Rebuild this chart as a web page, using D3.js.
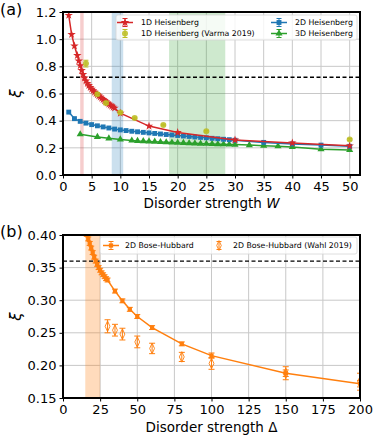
<!DOCTYPE html>
<html>
<head>
<meta charset="utf-8">
<script src="https://cdn.jsdelivr.net/npm/d3@7"></script>
<style>
  body { margin: 0; background: #fff; }
  text { font-family: "DejaVu Sans", sans-serif; }
</style>
</head>
<body>
<svg id="chart"></svg>
<script>
// ---- panel (a) data ----
let heis1dW = [1, 1.5, 2, 2.5, 2.75, 3, 3.25, 3.5, 3.75, 4, 4.25, 4.5, 4.75, 5, 5.25, 5.5, 5.75,
    6, 6.25, 6.5, 6.75, 7, 7.25, 7.5, 7.75, 8, 8.25, 8.5, 8.75, 9, 10, 15, 20, 30, 40, 50];
let heis1dXi = [1.176, 1.035, 0.95, 0.88, 0.84, 0.805, 0.77, 0.74, 0.715, 0.693, 0.675, 0.659, 0.645,
    0.632, 0.621, 0.61, 0.6, 0.592, 0.583, 0.574, 0.565, 0.556, 0.547, 0.538, 0.53, 0.522, 0.514,
    0.507, 0.5, 0.493, 0.455, 0.36, 0.313, 0.258, 0.236, 0.215];

let heis2dW = [1, 2, 3, 4, 5, 6, 7, 8, 9, 10, 11, 12, 13, 14, 15, 16, 17, 18, 19, 20, 21, 22, 23, 24,
    25, 26, 27, 28, 29, 30, 35, 40, 45, 50];
let heis2dXi = [0.463, 0.415, 0.395, 0.382, 0.371, 0.362, 0.354, 0.346, 0.338, 0.332, 0.327, 0.322,
    0.318, 0.314, 0.31, 0.306, 0.302, 0.298, 0.295, 0.291, 0.287, 0.284, 0.28, 0.277, 0.274, 0.27,
    0.267, 0.263, 0.26, 0.256, 0.24, 0.229, 0.22, 0.211];

let heis3dW = [3, 6, 8, 10, 12, 13, 14, 15, 16, 17, 18, 19, 20, 21, 22, 23, 24, 25, 26, 27, 28, 29, 30,
    32.5, 35, 37.5, 40, 45, 50];
let heis3dXi = [0.3, 0.28, 0.27, 0.262, 0.254, 0.251, 0.249, 0.247, 0.245, 0.243, 0.241, 0.239, 0.237,
    0.236, 0.234, 0.233, 0.231, 0.23, 0.229, 0.227, 0.226, 0.225, 0.224, 0.22, 0.216, 0.212, 0.207,
    0.19, 0.184];

let varmaW = [4, 6, 7.5, 10, 12.5, 17.5, 25, 50];
let varmaXi = [0.82, 0.595, 0.53, 0.46, 0.42, 0.368, 0.322, 0.262];
let varmaErr = [0.025, 0.01, 0.01, 0.008, 0.006, 0.006, 0.006, 0.006];

let spansA = [[3, 3.6, "#d62728"], [8.5, 10.5, "#1f77b4"], [18.5, 28.3, "#2ca02c"]];
let dashA = 0.72;
let xTicksA = [0, 5, 10, 15, 20, 25, 30, 35, 40, 45, 50];
let yTicksA = [0, 0.2, 0.4, 0.6, 0.8, 1.0, 1.2];

// ---- panel (b) data ----
let bhD = [16, 17, 18, 19, 20, 21, 22, 23, 24, 25, 26, 27, 28, 29, 30, 35, 40, 45, 50, 60, 80, 100, 150, 200];
let bhXi = [0.401, 0.394, 0.387, 0.38, 0.373, 0.366, 0.36, 0.355, 0.35, 0.346, 0.342, 0.339, 0.336,
    0.333, 0.331, 0.314, 0.299, 0.286, 0.275, 0.258, 0.233, 0.215, 0.188, 0.172];
let bhErr = [0.003, 0.003, 0.003, 0.003, 0.003, 0.003, 0.003, 0.003, 0.003, 0.003, 0.003, 0.003, 0.003,
    0.003, 0.003, 0.003, 0.003, 0.003, 0.003, 0.003, 0.003, 0.004, 0.005, 0.005];

let wahlD = [30, 35, 40, 50, 60, 80, 100, 150, 200];
let wahlXi = [0.26, 0.254, 0.248, 0.236, 0.226, 0.213, 0.203, 0.188, 0.175];
let wahlErr = [0.01, 0.009, 0.009, 0.009, 0.008, 0.007, 0.009, 0.01, 0.013];

let spanB = [15, 25];
let dashB = 0.36;
let xTicksB = [0, 25, 50, 75, 100, 125, 150, 175, 200];
let yTicksB = [0.15, 0.2, 0.25, 0.3, 0.35, 0.4];

let svgW = 374, svgH = 437;
let svg = d3.select("#chart").attr("width", svgW).attr("height", svgH);

let boxA = {left: 63, right: 360, top: 12, bottom: 175};
let boxB = {left: 63, right: 360, top: 235, bottom: 398};

let xA = d3.scaleLinear().domain([0, 51.8]).range([boxA.left, boxA.right]);
let yA = d3.scaleLinear().domain([0, 1.2]).range([boxA.bottom, boxA.top]);
let xB = d3.scaleLinear().domain([0, 200]).range([boxB.left, boxB.right]);
let yB = d3.scaleLinear().domain([0.15, 0.40]).range([boxB.bottom, boxB.top]);

let defs = svg.append("defs");
function clipFor(id, box) {
    defs.append("clipPath").attr("id", id).append("rect")
        .attr("x", box.left).attr("y", box.top)
        .attr("width", box.right - box.left).attr("height", box.bottom - box.top);
}
clipFor("clipA", boxA);
clipFor("clipB", boxB);

function grid(g, x, y, xt, yt, box) {
    g.selectAll(".gx").data(xt).enter().append("line")
        .attr("x1", d => x(d)).attr("x2", d => x(d))
        .attr("y1", box.top).attr("y2", box.bottom)
        .attr("stroke", "#c8c8c8").attr("stroke-width", 1);
    g.selectAll(".gy").data(yt).enter().append("line")
        .attr("x1", box.left).attr("x2", box.right)
        .attr("y1", d => y(d)).attr("y2", d => y(d))
        .attr("stroke", "#c8c8c8").attr("stroke-width", 1);
}

function axes(x, y, xt, yt, box, yfmt) {
    let xAxis = d3.axisBottom(x).tickValues(xt).tickSize(3.5).tickPadding(3.5).tickFormat(d3.format("d"));
    let gx = svg.append("g").attr("transform", "translate(0," + box.bottom + ")").call(xAxis);
    let yAxis = d3.axisLeft(y).tickValues(yt).tickSize(3.5).tickPadding(3).tickFormat(d3.format(yfmt));
    let gy = svg.append("g").attr("transform", "translate(" + box.left + ",0)").call(yAxis);
    [gx, gy].forEach(function (g) {
        g.select(".domain").remove();
        g.selectAll("text").attr("font-size", 13).attr("fill", "#000")
            .style("font-family", "DejaVu Sans");
        g.selectAll("line").attr("stroke", "#000").attr("stroke-width", 1);
    });
    svg.append("rect")
        .attr("x", box.left).attr("y", box.top)
        .attr("width", box.right - box.left).attr("height", box.bottom - box.top)
        .attr("fill", "none").attr("stroke", "#000").attr("stroke-width", 2);
}

function marker(g, type, cx, cy, color, size) {
    let sym = d3.symbol().type(type).size(size);
    let p = g.append("path").attr("d", sym()).attr("transform", "translate(" + cx + "," + cy + ")");
    if (type === d3.symbolDiamond) {
        p.attr("fill", "none")
            .attr("stroke", color).attr("stroke-width", 1)
            .attr("transform", "translate(" + cx + "," + cy + ") scale(0.8,1)");
    } else {
        p.attr("fill", color);
    }
    return p;
}

function errbar(g, cx, y0, y1, color, cap) {
    g.append("line").attr("x1", cx).attr("x2", cx).attr("y1", y0).attr("y2", y1)
        .attr("stroke", color).attr("stroke-width", 1);
    [y0, y1].forEach(function (yy) {
        g.append("line").attr("x1", cx - cap).attr("x2", cx + cap).attr("y1", yy).attr("y2", yy)
            .attr("stroke", color).attr("stroke-width", 1);
    });
}

function series(g, x, y, xs, ys, color, type, size, withLine) {
    if (withLine) {
        let line = d3.line().x(d => x(d[0])).y(d => y(d[1]));
        g.append("path").datum(d3.zip(xs, ys)).attr("d", line)
            .attr("fill", "none").attr("stroke", color).attr("stroke-width", 1.5);
    }
    xs.forEach(function (d, i) {
        marker(g, type, x(d), y(ys[i]), color, size);
    });
}

// ================= panel (a) =================
let gA = svg.append("g").attr("clip-path", "url(#clipA)");
grid(gA, xA, yA, xTicksA, yTicksA, boxA);
spansA.forEach(function (s) {
    gA.append("rect").attr("x", xA(s[0])).attr("width", xA(s[1]) - xA(s[0]))
        .attr("y", boxA.top).attr("height", boxA.bottom - boxA.top)
        .attr("fill", s[2]).attr("fill-opacity", 0.23);
});
gA.append("line").attr("x1", boxA.left).attr("x2", boxA.right)
    .attr("y1", yA(dashA)).attr("y2", yA(dashA))
    .attr("stroke", "#000").attr("stroke-width", 1.4).attr("stroke-dasharray", "4,2.5");

series(gA, xA, yA, heis3dW, heis3dXi, "#2ca02c", d3.symbolTriangle, 22, true);
series(gA, xA, yA, heis2dW, heis2dXi, "#1f77b4", d3.symbolSquare, 24, true);
series(gA, xA, yA, heis1dW, heis1dXi, "#d62728", d3.symbolStar, 22, true);
varmaW.forEach(function (d, i) {
    errbar(gA, xA(d), yA(varmaXi[i] - varmaErr[i]), yA(varmaXi[i] + varmaErr[i]), "#bcbd22", 2.5);
    gA.append("circle").attr("cx", xA(d)).attr("cy", yA(varmaXi[i])).attr("r", 3)
        .attr("fill", "#bcbd22").attr("fill-opacity", 0.85);
});
axes(xA, yA, xTicksA, yTicksA, boxA, ".1f");

// legend (a)
let legA = svg.append("g");
legA.append("rect").attr("x", 116).attr("y", 15).attr("width", 241).attr("height", 25)
    .attr("rx", 2).attr("fill", "#fff").attr("fill-opacity", 0.8)
    .attr("stroke", "#d5d5d5").attr("stroke-width", 0.8);
let legItemsA = [
    {label: "1D Heisenberg", color: "#d62728", type: d3.symbolStar, size: 24, line: true, x: 117, y: 22.5},
    {label: "1D Heisenberg (Varma 2019)", color: "#bcbd22", type: "circle", size: 0, line: false, x: 117, y: 33.5},
    {label: "2D Heisenberg", color: "#1f77b4", type: d3.symbolSquare, size: 24, line: true, x: 271, y: 22.5},
    {label: "3D Heisenberg", color: "#2ca02c", type: d3.symbolTriangle, size: 22, line: true, x: 271, y: 33.5}
];
legItemsA.forEach(function (it) {
    let cx = it.x + 8;
    if (it.line) {
        legA.append("line").attr("x1", it.x).attr("x2", it.x + 16).attr("y1", it.y).attr("y2", it.y)
            .attr("stroke", it.color).attr("stroke-width", 1.5);
    }
    errbar(legA, cx, it.y - 4, it.y + 4, it.color, 2.5);
    if (it.type === "circle") {
        legA.append("circle").attr("cx", cx).attr("cy", it.y).attr("r", 3)
            .attr("fill", it.color).attr("fill-opacity", 0.85);
    } else {
        marker(legA, it.type, cx, it.y, it.color, it.size);
    }
    legA.append("text").attr("x", it.x + 24).attr("y", it.y).attr("dy", "0.36em")
        .attr("font-size", 7.8).text(it.label);
});

// labels (a)
svg.append("text").attr("x", 0).attr("y", 14.5).attr("font-size", 16).text("(a)");
svg.append("text").attr("transform", "translate(21,93.5) rotate(-90)")
    .attr("text-anchor", "middle").attr("font-size", 15).attr("font-style", "italic").text("ξ");
let xlabA = svg.append("text").attr("x", (boxA.left + boxA.right) / 2).attr("y", 208)
    .attr("text-anchor", "middle").attr("font-size", 13.5);
xlabA.append("tspan").text("Disorder strength ");
xlabA.append("tspan").attr("font-style", "italic").text("W");

// ================= panel (b) =================
let gB = svg.append("g").attr("clip-path", "url(#clipB)");
grid(gB, xB, yB, xTicksB, yTicksB, boxB);
gB.append("rect").attr("x", xB(spanB[0])).attr("width", xB(spanB[1]) - xB(spanB[0]))
    .attr("y", boxB.top).attr("height", boxB.bottom - boxB.top)
    .attr("fill", "#ff7f0e").attr("fill-opacity", 0.28);
gB.append("line").attr("x1", boxB.left).attr("x2", boxB.right)
    .attr("y1", yB(dashB)).attr("y2", yB(dashB))
    .attr("stroke", "#000").attr("stroke-width", 1.4).attr("stroke-dasharray", "4,2.5");

wahlD.forEach(function (d, i) {
    errbar(gB, xB(d), yB(wahlXi[i] - wahlErr[i]), yB(wahlXi[i] + wahlErr[i]), "#ff7f0e", 3);
    marker(gB, d3.symbolDiamond, xB(d), yB(wahlXi[i]), "#ff7f0e", 32);
});
bhD.forEach(function (d, i) {
    errbar(gB, xB(d), yB(bhXi[i] - bhErr[i]), yB(bhXi[i] + bhErr[i]), "#ff7f0e", 3);
});
series(gB, xB, yB, bhD, bhXi, "#ff7f0e", d3.symbolSquare, 18, true);
axes(xB, yB, xTicksB, yTicksB, boxB, ".2f");

// legend (b)
let legB = svg.append("g");
legB.append("rect").attr("x", 100).attr("y", 237).attr("width", 257).attr("height", 17)
    .attr("rx", 2).attr("fill", "#fff").attr("fill-opacity", 0.8)
    .attr("stroke", "#d5d5d5").attr("stroke-width", 0.8);
legB.append("line").attr("x1", 103).attr("x2", 119).attr("y1", 245.5).attr("y2", 245.5)
    .attr("stroke", "#ff7f0e").attr("stroke-width", 1.5);
errbar(legB, 111, 241.5, 249.5, "#ff7f0e", 2.5);
marker(legB, d3.symbolSquare, 111, 245.5, "#ff7f0e", 18);
legB.append("text").attr("x", 125).attr("y", 245.5).attr("dy", "0.36em")
    .attr("font-size", 7.8).text("2D Bose-Hubbard");
errbar(legB, 219, 241.5, 249.5, "#ff7f0e", 2.5);
marker(legB, d3.symbolDiamond, 219, 245.5, "#ff7f0e", 28);
legB.append("text").attr("x", 233).attr("y", 245.5).attr("dy", "0.36em")
    .attr("font-size", 7.8).text("2D Bose-Hubbard (Wahl 2019)");

// labels (b)
svg.append("text").attr("x", 0).attr("y", 237).attr("font-size", 16).text("(b)");
svg.append("text").attr("transform", "translate(21,316.5) rotate(-90)")
    .attr("text-anchor", "middle").attr("font-size", 15).attr("font-style", "italic").text("ξ");
svg.append("text").attr("x", (boxB.left + boxB.right) / 2).attr("y", 432)
    .attr("text-anchor", "middle").attr("font-size", 13.5).text("Disorder strength Δ");
</script>
</body>
</html>
